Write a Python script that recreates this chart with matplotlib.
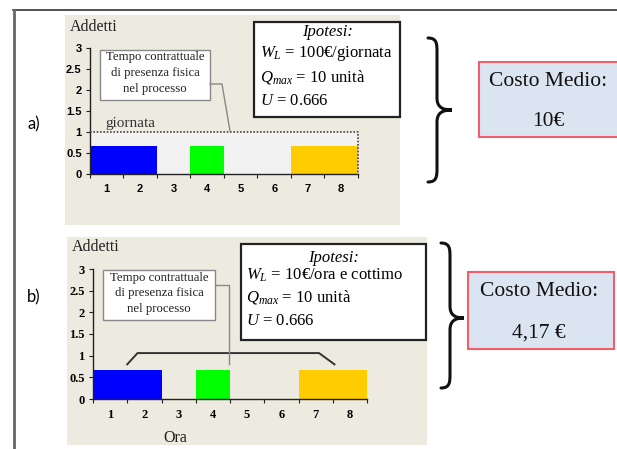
import matplotlib
matplotlib.use("Agg")
import matplotlib.pyplot as plt
from matplotlib.patches import Rectangle, PathPatch
from matplotlib.path import Path

plt.rcParams["mathtext.fontset"] = "custom"
plt.rcParams["mathtext.rm"] = "Liberation Serif"
plt.rcParams["mathtext.it"] = "Liberation Serif:italic"
plt.rcParams["mathtext.bf"] = "Liberation Serif:bold"

W, H = 617, 449
SERIF = "Liberation Serif"

# ---- data -------------------------------------------------------------
hours = [1, 2, 3, 4, 5, 6, 7, 8]
hour_labels = ["1", "2", "3", "4", "5", "6", "7", "8"]
addetti = [0.67, 0.67, 0.0, 0.67, 0.0, 0.0, 0.67, 0.67]
phase_colors = ["#0000ff", "#0000ff", "#0000ff", "#00ff00", "#00ff00",
                "#ffcc00", "#ffcc00", "#ffcc00"]
y_ticks = [0, 0.5, 1, 1.5, 2, 2.5, 3]
y_labels = ["0", "0.5", "1", "1.5", "2", "2.5", "3"]
presenza_giornata = 1.0          # contractual presence, case a)
bracket_x = [1.5, 1.8, 7.1, 7.55]  # presence bracket, case b)
bracket_y = [0.8, 1.06, 1.06, 0.8]

ipotesi_a = ["$W_L$ = 100€/giornata", "$Q_{max}$ = 10 unità", "$U$ = 0.666"]
ipotesi_b = ["$W_L$ = 10€/ora e cottimo", "$Q_{max}$ = 10 unità", "$U$ = 0.666"]
costo_a = "10€"
costo_b = "4,17 €"

BEIGE = "#edeae0"

fig = plt.figure(figsize=(W / 100, H / 100), dpi=100)
fig.patch.set_facecolor("white")


def overlay(z):
    ax = fig.add_axes([0, 0, 1, 1], zorder=z)
    ax.set_xlim(0, W)
    ax.set_ylim(H, 0)
    ax.axis("off")
    ax.patch.set_alpha(0)
    return ax


bg = overlay(0)
fg = overlay(3)

# page frame
bg.plot([13, W], [10, 10], color="#333333", lw=1.2)
bg.plot([14, 14], [10, H], color="#666666", lw=2)

# chart panels
bg.add_patch(Rectangle((65, 15), 335, 210, facecolor=BEIGE, edgecolor="none"))
bg.add_patch(Rectangle((67, 237), 360, 208, facecolor=BEIGE, edgecolor="none"))


def chart(left, top, right, bottom, tick_font):
    ax = fig.add_axes([left / W, 1 - bottom / H, (right - left) / W,
                       (bottom - top) / H], zorder=1)
    ax.patch.set_alpha(0)
    ax.set_xlim(0.5, 8.5)
    ax.set_ylim(0, 3)
    ax.bar(hours, addetti, width=1.0, color=phase_colors, linewidth=0,
           zorder=2)
    for s in ("top", "right"):
        ax.spines[s].set_visible(False)
    for s in ("left", "bottom"):
        ax.spines[s].set_color("#222222")
        ax.spines[s].set_linewidth(1.0)
    ax.set_xticks([h - 0.5 for h in hours] + [8.5])
    ax.set_xticklabels([])
    ax.set_xticks(hours, minor=True)
    ax.set_xticklabels(hour_labels, minor=True, fontdict=tick_font)
    ax.tick_params(axis="x", which="minor", length=0, pad=7)
    ax.tick_params(axis="x", which="major", length=3, direction="out",
                   color="#222222")
    ax.set_yticks(y_ticks)
    ax.set_yticklabels(y_labels, fontdict=tick_font)
    ax.tick_params(axis="y", length=3, direction="out", pad=3,
                   color="#222222")
    return ax


sans_bold = {"family": "Liberation Sans", "weight": "bold", "size": 8}
serif_bold = {"family": SERIF, "weight": "bold", "size": 9}

ax_a = chart(90, 48, 358, 174, sans_bold)
ax_a.add_patch(Rectangle((0.5, 0), 8, presenza_giornata, facecolor="#f2f2f2",
                         edgecolor="none", zorder=1))
ax_a.plot([0.5, 8.5, 8.5], [presenza_giornata, presenza_giornata, 0],
          ls=(0, (1, 1)), color="#444444", lw=1.2, zorder=3, clip_on=False)
ax_a.text(0.95, presenza_giornata + 0.05, "giornata", family=SERIF,
          fontsize=11, color="#333333", va="bottom", ha="left")

ax_b = chart(93, 269, 367, 399, serif_bold)
ax_b.plot(bracket_x, bracket_y, color="#333333", lw=1.4, zorder=3)

# axis titles
fg.text(70, 27, "Addetti", family=SERIF, fontsize=11.5, va="center",
        ha="left", color="#222222")
fg.text(72, 247, "Addetti", family=SERIF, fontsize=11.5, va="center",
        ha="left", color="#222222")
fg.text(175, 438, "Ora", family=SERIF, fontsize=11.5, va="center",
        ha="center", color="#222222")

# panel tags
fg.text(34, 124, "a)", family="Lato", fontsize=12, va="center", ha="center")
fg.text(34, 297, "b)", family="Lato", fontsize=12, va="center", ha="center")


def callout(x0, y0, x1, y1, lines_y, leader):
    fg.plot([p[0] for p in leader], [p[1] for p in leader],
            color="#888888", lw=1.0)
    fg.add_patch(Rectangle((x0, y0), x1 - x0, y1 - y0, facecolor="white",
                           edgecolor="#888888", lw=1.0))
    for txt, y in zip(["Tempo contrattuale", "di presenza fisica",
                       "nel processo"], lines_y):
        fg.text((x0 + x1) / 2, y, txt, family=SERIF, fontsize=9.2,
                ha="center", va="center", color="#222222")


callout(100, 50, 210, 100, [57, 73, 89], [(210, 84), (222, 84), (230, 131)])
callout(103, 270, 215, 320, [278, 293, 309], [(215, 285), (229, 285), (229, 364)])


def ipotesi(x0, y0, x1, y1, title_y, tx, lines, lines_y):
    fg.add_patch(Rectangle((x0, y0), x1 - x0, y1 - y0, facecolor="white",
                           edgecolor="#222222", lw=1.6))
    fg.text((x0 + x1) / 2, title_y, "Ipotesi:", family=SERIF, style="italic",
            fontsize=12, ha="center", va="center")
    for txt, y in zip(lines, lines_y):
        fg.text(tx, y, txt, family=SERIF, fontsize=12, ha="left",
                va="baseline")


ipotesi(254, 22, 400, 117, 32, 260, ipotesi_a, [57, 82, 105])
ipotesi(241, 244, 426, 340, 258, 246, ipotesi_b, [280, 302, 325])


def brace(ex, vx, tx, ytop, ty, ybot, r=12):
    d = tx - vx
    verts = [(ex, ytop), (vx, ytop), (vx, ytop + 0.5 * r), (vx, ytop + 1.2 * r),
             (vx, ty - r),
             (vx, ty - 0.3 * r), (vx + 0.3 * d, ty), (tx, ty),
             (vx + 0.3 * d, ty), (vx, ty + 0.3 * r), (vx, ty + r),
             (vx, ybot - 1.2 * r),
             (vx, ybot - 0.5 * r), (vx, ybot), (ex, ybot)]
    codes = ([Path.MOVETO] + [Path.CURVE4] * 3 + [Path.LINETO]
             + [Path.CURVE4] * 6 + [Path.LINETO] + [Path.CURVE4] * 3)
    fg.add_patch(PathPatch(Path(verts, codes), facecolor="none",
                           edgecolor="#111111", lw=2.2, capstyle="round"))


brace(428, 437, 452, 38, 110, 182)
brace(441, 450, 464, 243, 318, 388)


def costo(x0, y0, x1, y1, value, title_y, value_y, cx):
    fg.add_patch(Rectangle((x0, y0), x1 - x0, y1 - y0, facecolor="#dbe5f1",
                           edgecolor="#f0606a", lw=1.5, clip_on=False))
    fg.text(cx, title_y, "Costo Medio:", family=SERIF, fontsize=15.5,
            ha="center", va="center", color="#111111")
    fg.text(cx, value_y, value, family=SERIF, fontsize=15.5, ha="center",
            va="center", color="#111111")


costo(479, 62, 622, 137, costo_a, 81, 122, 548)
costo(468, 272, 614, 349, costo_b, 292, 333, 539)

fig.savefig("out.png", dpi=100)
